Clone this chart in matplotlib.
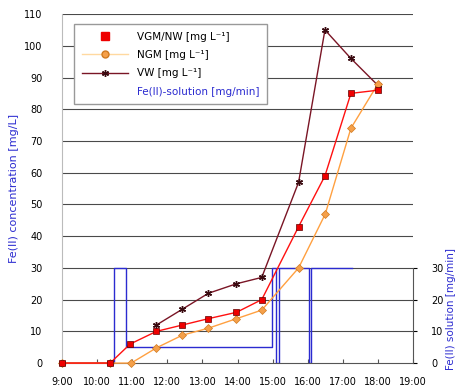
import numpy as np
import matplotlib.pyplot as plt
from matplotlib.lines import Line2D

# sampling times in decimal hours
t_vgm = [9.0, 10.37, 10.94, 11.69, 12.43, 13.17, 13.97, 14.69, 15.74, 16.49, 17.23, 18.0]
vgm = [0, 0, 6.0, 10, 12, 14, 16, 20, 43, 59, 85, 86]

t_ngm = [9.0, 10.37, 10.97, 11.69, 12.43, 13.17, 13.97, 14.69, 15.74, 16.5, 17.23, 18.0]
ngm = [0, 0, 0, 4.8, 8.8, 11, 14, 16.7, 30, 47, 74, 88]

t_vw = [9.0, 10.37, 10.94, 11.69, 12.43, 13.17, 13.97, 14.69, 15.74, 16.49, 17.23, 18.0]
vw = [0, 0, np.nan, 12, 17, 22, 25, 27, 57, 105, 96, 87.5]

# Fe(II) dosing (step line)
t_sol = [9.0, 10.49, 10.49, 10.83, 10.83, 14.97, 14.97, 15.09, 15.09, 15.18, 15.18,
         16.03, 16.03, 16.1, 16.1, 17.26]
sol = [0, 0, 30, 30, 5, 5, 30, 30, 0, 0, 30, 30, 0, 0, 30, 30]

hours = list(range(9, 20))
hour_labels = ["%d:00" % h for h in hours]

blue = "#2b2bd0"

fig = plt.figure(figsize=(4.61, 3.90), dpi=100)
ax = fig.add_axes([0.1345, 0.069, 0.7615, 0.895])

for yv in range(10, 111, 10):
    ax.axhline(yv, color="#4a4a4a", lw=0.8, zorder=0)

ax.plot(t_sol, sol, color=blue, lw=1.0, zorder=2)
ax.plot(t_vw, vw, color="#7a1525", lw=1.0, marker=(6, 2, 0), ms=5, mec="#3a0a10",
        mew=1.0, label="VW [mg L\u207b\u00b9]", zorder=3, clip_on=False)
ax.plot(t_ngm, ngm, color="#ffa040", lw=1.0, marker="D", ms=4, mfc="#f5a04a",
        mec="#d07a20", mew=0.5, label="NGM [mg L\u207b\u00b9]", zorder=4, clip_on=False)
ax.plot(t_vgm, vgm, color="#ff1010", lw=1.0, marker="s", ms=4.5, mfc="#ee0000",
        mec="#600000", mew=0.5, label="VGM/NW [mg L\u207b\u00b9]", zorder=5, clip_on=False)

ax.set_xlim(9, 19)
ax.set_ylim(0, 110)
ax.set_yticks(range(0, 111, 10))
ax.set_xticks(hours)
ax.set_xticklabels(hour_labels)
ax.tick_params(axis="y", length=0, labelsize=7, pad=14)
ax.tick_params(axis="x", length=3, direction="in", labelsize=7, pad=10, color="#555")
ax.spines["top"].set_visible(False)
ax.spines["right"].set_visible(False)
ax.spines["left"].set_color("#bbbbbb")
ax.spines["bottom"].set_color("#555555")

ax.set_ylabel("Fe(II) concentration [mg/L]", color=blue, fontsize=8, labelpad=4)

# right axis for the dosing
ax2 = ax.twinx()
ax2.set_ylim(0, 110)
ax2.set_yticks([0, 10, 20, 30])
ax2.tick_params(axis="y", length=3, labelsize=7, pad=10)
for s in ["top", "left", "bottom"]:
    ax2.spines[s].set_visible(False)
ax2.spines["right"].set_bounds(0, 30)
ax2.spines["right"].set_color("#555555")
ax2.set_ylabel("Fe(II) solution [mg/min]", color=blue, fontsize=7.5)
ax2.yaxis.set_label_coords(1.095, 0.155)

handles = [
    Line2D([], [], color="none", marker="s", ms=6, mfc="#ee0000", mec="#ee0000"),
    Line2D([], [], color="#ffd9a0", lw=1.0, marker="o", ms=5, mfc="#f5a04a", mec="#d07a20"),
    Line2D([], [], color="#7a1525", lw=1.0, marker=(6, 2, 0), ms=5, mec="#3a0a10"),
    Line2D([], [], color="none"),
]
labels = ["VGM/NW [mg L\u207b\u00b9]", "NGM [mg L\u207b\u00b9]", "VW [mg L\u207b\u00b9]",
          "Fe(II)-solution [mg/min]"]
leg = ax.legend(handles, labels, loc="upper left", bbox_to_anchor=(0.02, 0.985),
                fontsize=7.5, frameon=True, fancybox=False, edgecolor="#999999",
                framealpha=1, borderpad=0.7, labelspacing=0.8, handlelength=4.5)
leg.get_texts()[3].set_color(blue)
leg.set_zorder(10)

fig.savefig("out.png", dpi=100)
